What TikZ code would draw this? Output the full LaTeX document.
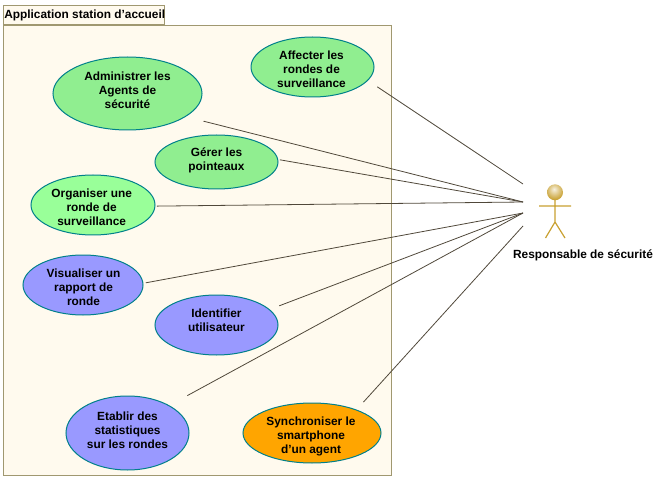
\documentclass[tikz,border=0pt]{standalone}
\usepackage{fontspec}
\setmainfont{Liberation Sans}
\usetikzlibrary{shapes.geometric}
\definecolor{pkgfill}{HTML}{FFFAEE}
\definecolor{pkgline}{HTML}{A09870}
\definecolor{ucline}{HTML}{00808A}
\definecolor{ucgreen}{HTML}{90EE90}
\definecolor{uclight}{HTML}{99FF99}
\definecolor{ucblue}{HTML}{9999FF}
\definecolor{ucorange}{HTML}{FFA500}
\definecolor{linkcol}{HTML}{50483A}
\definecolor{actorcol}{HTML}{C8A030}
\pgfdeclareradialshading{actorball}{\pgfpoint{-3bp}{10bp}}{
  color(0bp)=(white!85!actorcol);
  color(14bp)=(actorcol!55!white);
  color(30bp)=(actorcol);
  color(48bp)=(actorcol!75!black);
  color(100bp)=(actorcol!75!black)}
\newcommand{\uctext}[3]{\raisebox{#2}[0pt][0pt]{\makebox[0pt]{\hspace*{#1}\begin{tabular}{@{}c@{}}#3\end{tabular}}}}
\tikzset{
  x=0.75pt,y=-0.75pt,
  every node/.style={font=\fontsize{8.9pt}{10.5pt}\selectfont\bfseries,text=black},
  usecase/.style n args={3}{ellipse,draw=ucline,line width=0.75pt,inner sep=0pt,fill=#1,
    minimum width=#2*1.5pt,minimum height=#3*1.5pt},
  package/.style={rectangle,draw=pkgline,fill=pkgfill,line width=0.75pt,inner sep=0pt},
  link/.style={draw=linkcol,line width=0.6pt},
  limb/.style={draw=actorcol,line width=0.9pt},
}
\begin{document}
\begin{tikzpicture}
\useasboundingbox (0,0) rectangle (657,481);
% package
\node[package,anchor=north west,minimum width=291pt,minimum height=337.1pt] (pkg) at (3,25.5) {};
\node[package,anchor=south west,minimum width=120.75pt,minimum height=14.25pt] (tab) at (3,25.5) {\makebox[120.75pt][l]{\hspace*{0.6pt}Application station d'accueil}};
% use cases
\node[usecase={ucgreen}{74.5}{36.5},outer sep=11.5pt] (adm) at (127.5,93.5) {\uctext{0pt}{-1pt}{Administrer les\\Agents de\\sécurité}};
\node[usecase={ucgreen}{61.5}{30},outer sep=9pt] (aff) at (312.5,67) {\uctext{-1.5pt}{-5pt}{Affecter les\\rondes de\\surveillance}};
\node[usecase={ucgreen}{61.5}{27},outer sep=1.5pt] (ger) at (216.5,162) {\uctext{0pt}{-1pt}{Gérer les\\pointeaux}};
\node[usecase={uclight}{62}{30},outer sep=1.5pt] (org) at (93,205) {\uctext{-2pt}{-5pt}{Organiser une\\ronde de\\surveillance}};
\node[usecase={ucblue}{60}{30},outer sep=2.2pt] (vis) at (83,285) {\uctext{0.8pt}{-5pt}{Visualiser un\\rapport de\\ronde}};
\node[usecase={ucblue}{61.5}{30},outer sep=7.5pt] (ide) at (216.5,325) {\uctext{0pt}{0.5pt}{Identifier\\utilisateur}};
\node[usecase={ucblue}{61.5}{37},outer sep=14.2pt] (eta) at (127.5,433) {\uctext{0pt}{-1.25pt}{Etablir des\\statistiques\\sur les rondes}};
\node[usecase={ucorange}{69}{30},outer sep=7.9pt] (syn) at (312,433) {\uctext{-1.5pt}{-5pt}{Synchroniser le\\smartphone\\d'un agent}};
% actor
\coordinate (a1) at (523,184);
\coordinate (a2) at (523,202);
\coordinate (a3) at (523,213);
\coordinate (a4) at (523,226);
\coordinate (neck) at (555,200);
\coordinate (crotch) at (555,222);
\coordinate (handl) at (539,206);
\coordinate (handr) at (571,206);
\coordinate (footl) at (545.5,238);
\coordinate (footr) at (565,238);
\draw[limb] (neck) -- (crotch) (handl) -- (handr) (footl) -- (crotch) -- (footr);
\shade[shading=actorball] (555,192.3) circle[radius=6pt];
\node (actlabel) at (583,255.7) {Responsable de sécurité};
% connectors
\draw[link] (aff.-17) -- (a1);
\draw[link] (adm.-20) -- (a2);
\draw[link] (ger.2) -- (a2);
\draw[link] (org.-1) -- (a2);
\draw[link] (vis.2) -- (a3);
\draw[link] (ide.17) -- (a3);
\draw[link] (eta.32.6) -- (a3);
\draw[link] (syn.31.3) -- (a4);
\end{tikzpicture}
\end{document}
